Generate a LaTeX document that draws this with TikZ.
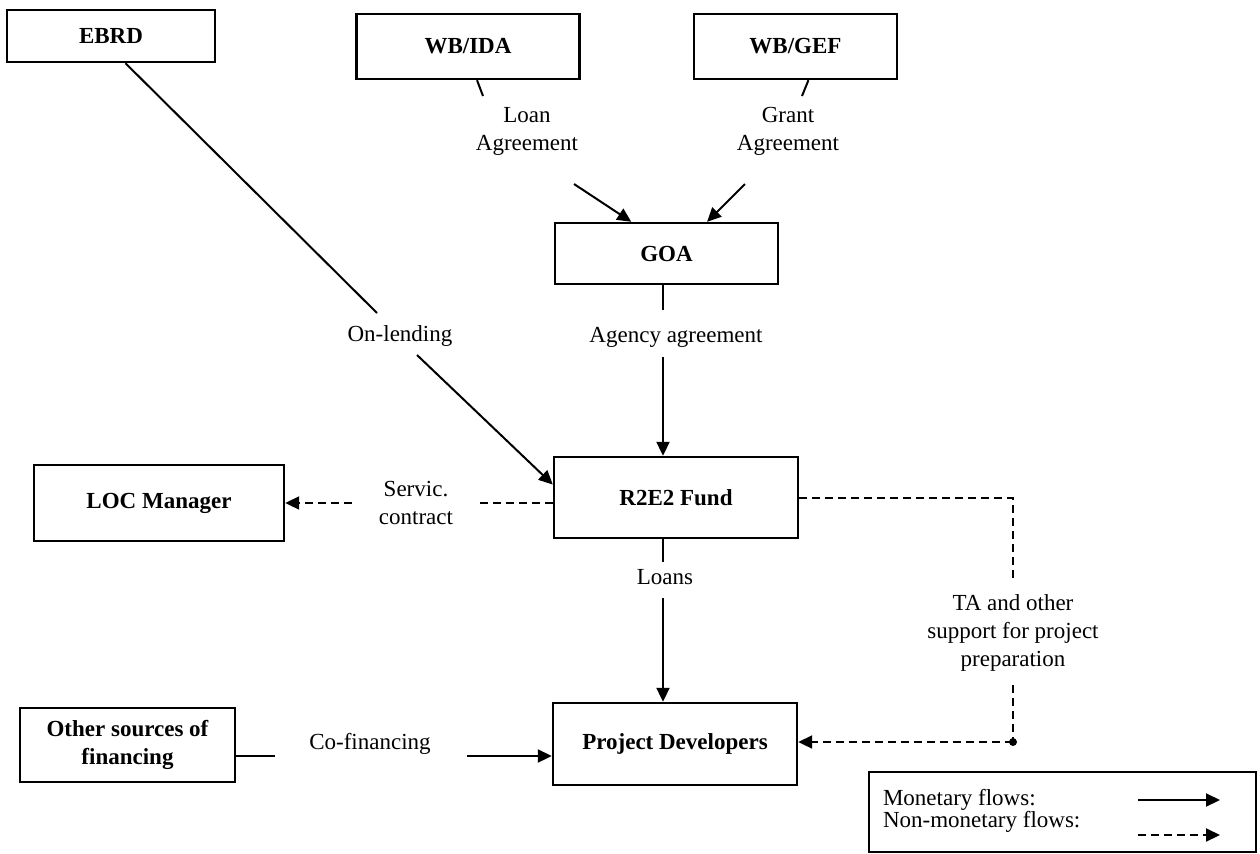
\documentclass[tikz,border=0pt]{standalone}
\usepackage{fontspec}
\setmainfont{Liberation Serif}
\usetikzlibrary{arrows.meta}

\begin{document}
\begin{tikzpicture}[>={Triangle[length=7pt,width=6.5pt]}, x=0.5pt, y=-0.5pt,
    line width=1pt, font=\fontsize{11.5}{14}\selectfont,
    box/.style={draw, line width=1.2pt, inner sep=2pt, align=center,
      font=\bfseries\fontsize{11.5}{14}\selectfont},
    lbl/.style={inner sep=1pt, align=center},
    flow/.style={->},
    nonflow/.style={->, dash pattern=on 4pt off 2.5pt}]

    \useasboundingbox (0,0) rectangle (1260,853);

    % Boxes
    \node[box, minimum width=104pt, minimum height=26pt] (ebrd) at (111,36) {EBRD};
    \node[box, minimum width=111.5pt, minimum height=32.5pt] (wbida) at (468,46.5) {WB/IDA};
    \node[box, minimum width=101.5pt, minimum height=32.5pt] (wbgef) at (795.5,46.5) {WB/GEF};
    \node[box, minimum width=111.5pt, minimum height=30.5pt] (goa) at (666.5,253.5) {GOA};
    \node[box, minimum width=122pt, minimum height=40.5pt] (fund) at (676,497.5) {R2E2 Fund};
    \node[box, minimum width=125pt, minimum height=38pt] (loc) at (159,503) {LOC Manager};
    \node[box, minimum width=122pt, minimum height=41pt] (dev) at (675,744) {Project Developers};
    \node[box, minimum width=107.5pt, minimum height=37pt] (other) at (127.5,745) {Other sources of\\financing};

    % Labels on the flows
    \node[lbl] (loanag) at (527,131) {Loan\\Agreement};
    \node[lbl] (grantag) at (788,131) {Grant\\Agreement};
    \node[lbl] (onlend) at (400,336) {On-lending};
    \node[lbl] (agency) at (676,337) {Agency agreement};
    \node[lbl] (servic) at (416,503) {Servic.\\contract};
    \node[lbl] (loans) at (665,577) {Loans};
    \node[lbl] (ta) at (1013,633) {TA and other\\support for project\\preparation};
    \node[lbl] (cofin) at (370,744) {Co-financing};

    % Ends of the broken connectors
    \coordinate (lend1) at (377,313);
    \coordinate (lend2) at (417,355);
    \coordinate (ida1) at (483,96);
    \coordinate (ida2) at (574,184);
    \coordinate (gef1) at (802,96);
    \coordinate (gef2) at (745,184);
    \coordinate (ag1) at (663,310);
    \coordinate (ag2) at (663,357);
    \coordinate (sv1) at (479,503);
    \coordinate (sv2) at (352,503);
    \coordinate (ln1) at (663,562);
    \coordinate (ln2) at (663,598);
    \coordinate (ta0) at (1013,498);
    \coordinate (ta1) at (1013,580);
    \coordinate (ta2) at (1013,685);
    \coordinate (tadot) at (1013,742);
    \coordinate (cf1) at (275,756);
    \coordinate (cf2) at (467,756);

    % Monetary flows
    \draw (ebrd.-62) -- (lend1);
    \draw[flow] (lend2) -- (fund.174);
    \draw (wbida.-75) -- (ida1);
    \draw[flow] (ida2) -- (goa.138);
    \draw (wbgef.-69) -- (gef1);
    \draw[flow] (gef2) -- (goa.38);
    \draw (goa.south -| ag1) -- (ag1);
    \draw[flow] (ag2) -- (fund.north -| ag2);
    \draw (fund.south -| ln1) -- (ln1);
    \draw[flow] (ln2) -- (dev.north -| ln2);
    \draw (other.east |- cf1) -- (cf1);
    \draw[flow] (cf2) -- (dev.west |- cf2);

    % Non-monetary flows
    \draw[dash pattern=on 4pt off 2.5pt] (fund.west |- sv1) -- (sv1);
    \draw[nonflow] (sv2) -- (loc.east |- sv2);
    \draw[dash pattern=on 4pt off 2.5pt] (fund.east |- ta0) -- (ta0) -- (ta1);
    \draw[dash pattern=on 4pt off 2.5pt] (ta2) -- (tadot);
    \fill (tadot) circle (2pt);
    \draw[nonflow] (tadot) -- (dev.east |- tadot);

    % Legend
    \node[draw, line width=1.2pt, minimum width=193.5pt, minimum height=40pt] (legend) at (1062.5,812) {};
    \node[anchor=west, inner sep=0pt] (mon) at (882,800) {Monetary flows:};
    \node[anchor=west, inner sep=0pt] (nonmon) at (882,822) {Non-monetary flows:};
    \coordinate (m1) at (1138,800);
    \coordinate (m2) at (1220,800);
    \coordinate (n1) at (1138,835);
    \coordinate (n2) at (1220,835);
    \draw[flow] (m1) -- (m2);
    \draw[nonflow] (n1) -- (n2);

\end{tikzpicture}
\end{document}
